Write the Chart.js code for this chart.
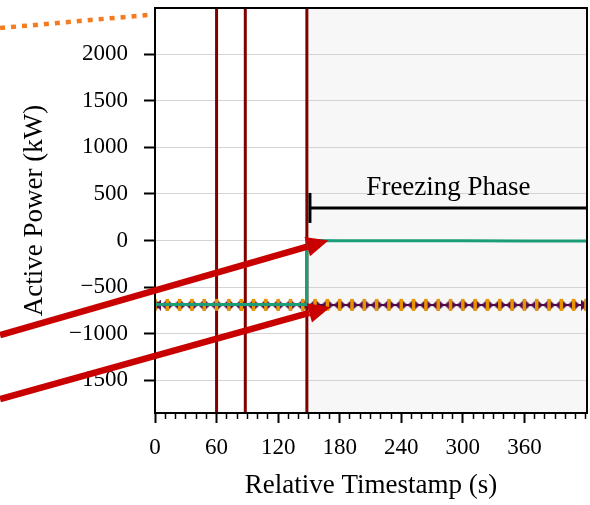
<!DOCTYPE html>
<html>
<head>
<meta charset="utf-8">
<script src="https://cdn.jsdelivr.net/npm/chart.js@4.4.0/dist/chart.umd.min.js"></script>
<style>
  html, body { margin: 0; padding: 0; background: #fff; }
  canvas { display: block; }
</style>
</head>
<body>
<canvas id="chart" width="590" height="505"></canvas>
<script>
// sample times (s) and values (kW)
const setpointTimes = [0, 12, 24, 36, 48, 60, 72, 84, 96, 108, 120, 132, 144, 156, 168, 180, 192, 204,
  216, 228, 240, 252, 264, 276, 288, 300, 312, 324, 336, 348, 360, 372, 384, 396, 408, 420];
const setpointValues = [-690, -690, -690, -690, -690, -690, -690, -690, -690, -690, -690, -690,
  -690, -690, -690, -690, -690, -690, -690, -690, -690, -690, -690, -690, -690, -690, -690, -690,
  -690, -690, -690, -690, -690, -690, -690, -690];
const measuredTimes = [0, 6, 18, 30, 42, 54, 66, 78, 90, 102, 114, 126, 138, 150, 162, 174, 186, 198,
  210, 222, 234, 246, 258, 270, 282, 294, 306, 318, 330, 342, 354, 366, 378, 390, 402, 414, 421];
const measuredValues = [-692, -692, -692, -692, -692, -692, -692, -692, -692, -692, -692, -692,
  -692, -692, -692, -692, -692, -692, -692, -692, -692, -692, -692, -692, -692, -692, -692, -692,
  -692, -692, -692, -692, -692, -692, -692, -692, -692];
const controlTimes = [0, 148, 148, 180, 240, 300, 360, 421];
const controlValues = [-685, -685, 0, -1, -2, -3, -4, -5];
const eventTimes = [60, 88, 148];
const freezeStart = 148;
const xLabels = [0, 60, 120, 180, 240, 300, 360];
const xMinorStep = 10;
const yLabels = [-1500, -1000, -500, 0, 500, 1000, 1500, 2000];

// annotations, in data units
const bracket = { start: 151, level: 350, text: 'Freezing Phase', textLevel: 490 };
const arrows = [
  { from: [-151, -1015], to: [169, 0] },
  { from: [-151, -1700], to: [171, -713] }
];
const dotted = { from: [-151, 2280], to: [-2, 2425] };

const serif = '"Liberation Serif", "Times New Roman", serif';

function bowtie(color) {
  const c = document.createElement('canvas');
  c.width = 12; c.height = 11;
  const g = c.getContext('2d');
  g.fillStyle = color;
  g.beginPath(); g.moveTo(0, 0); g.lineTo(6, 5.5); g.lineTo(0, 11); g.closePath(); g.fill();
  g.beginPath(); g.moveTo(12, 0); g.lineTo(6, 5.5); g.lineTo(12, 11); g.closePath(); g.fill();
  return c;
}

const toPts = (xs, ys) => xs.map((x, i) => ({ x: x, y: ys[i] }));

const decor = {
  id: 'decor',
  beforeDraw(chart) {
    const { ctx, chartArea: a, scales: { x } } = chart;
    ctx.save();
    ctx.fillStyle = '#f7f7f7';
    const x0 = x.getPixelForValue(freezeStart);
    ctx.fillRect(x0, a.top, a.right - x0, a.bottom - a.top);
    ctx.restore();
  },
  beforeDatasetsDraw(chart) {
    const { ctx, chartArea: a, scales: { x } } = chart;
    ctx.save();
    ctx.strokeStyle = '#800000';
    ctx.lineWidth = 3;
    eventTimes.forEach(t => {
      const px = x.getPixelForValue(t);
      ctx.beginPath(); ctx.moveTo(px, a.top); ctx.lineTo(px, a.bottom); ctx.stroke();
    });
    ctx.restore();
  },
  afterDatasetsDraw(chart) {
    const { ctx, chartArea: a, scales: { x, y } } = chart;
    ctx.save();
    // frame
    ctx.strokeStyle = '#000';
    ctx.lineWidth = 2;
    ctx.strokeRect(a.left, a.top, a.right - a.left, a.bottom - a.top);
    // bracket
    const bx = x.getPixelForValue(bracket.start);
    const by = y.getPixelForValue(bracket.level);
    ctx.lineWidth = 3;
    ctx.beginPath(); ctx.moveTo(bx, by); ctx.lineTo(a.right, by); ctx.stroke();
    ctx.beginPath(); ctx.moveTo(bx, by - 15); ctx.lineTo(bx, by + 15); ctx.stroke();
    ctx.fillStyle = '#000';
    ctx.font = '27px ' + serif;
    ctx.textAlign = 'center';
    ctx.textBaseline = 'alphabetic';
    ctx.fillText(bracket.text, (bx + a.right) / 2, y.getPixelForValue(bracket.textLevel));
    ctx.restore();
  },
  afterDraw(chart) {
    const { ctx, scales: { x, y } } = chart;
    const px = p => [x.getPixelForValue(p[0]), y.getPixelForValue(p[1])];
    ctx.save();
    // orange dotted line
    const d0 = px(dotted.from), d1 = px(dotted.to);
    ctx.strokeStyle = '#f47c20';
    ctx.lineWidth = 4.5;
    ctx.setLineDash([5, 6]);
    ctx.beginPath(); ctx.moveTo(d0[0], d0[1]); ctx.lineTo(d1[0], d1[1]); ctx.stroke();
    ctx.setLineDash([]);
    // red arrows
    ctx.strokeStyle = '#c80000';
    ctx.fillStyle = '#c80000';
    ctx.lineWidth = 6.5;
    arrows.forEach(ar => {
      const [x0, y0] = px(ar.from), [x1, y1] = px(ar.to);
      const ang = Math.atan2(y1 - y0, x1 - x0);
      const hl = 22, hw = 10;
      const bxp = x1 - hl * Math.cos(ang), byp = y1 - hl * Math.sin(ang);
      ctx.beginPath(); ctx.moveTo(x0, y0); ctx.lineTo(bxp, byp); ctx.stroke();
      ctx.beginPath();
      ctx.moveTo(x1, y1);
      ctx.lineTo(bxp + hw * Math.sin(ang), byp - hw * Math.cos(ang));
      ctx.lineTo(bxp - hw * Math.sin(ang), byp + hw * Math.cos(ang));
      ctx.closePath();
      ctx.fill();
    });
    ctx.restore();
  }
};

new Chart(document.getElementById('chart'), {
  type: 'line',
  data: {
    datasets: [
      {
        data: toPts(controlTimes, controlValues),
        borderColor: '#1b9e77',
        borderWidth: 3,
        pointRadius: 0,
        order: 0
      },
      {
        data: toPts(setpointTimes, setpointValues),
        showLine: false,
        pointStyle: 'line',
        pointRotation: 90,
        pointRadius: 6,
        pointBorderWidth: 3.5,
        pointBorderColor: '#e69500',
        order: 1
      },
      {
        data: toPts(measuredTimes, measuredValues),
        borderColor: '#520a48',
        borderWidth: 2,
        pointStyle: bowtie('#520a48'),
        pointRadius: 6,
        order: 2
      }
    ]
  },
  options: {
    responsive: false,
    animation: false,
    layout: { autoPadding: false, padding: { top: 8, right: 3, left: 0, bottom: 0 } },
    plugins: { legend: { display: false }, tooltip: { enabled: false } },
    scales: {
      x: {
        type: 'linear',
        min: 0,
        max: 421,
        afterBuildTicks: s => {
          const t = [];
          for (let v = 0; v <= s.max; v += xMinorStep) t.push({ value: v });
          s.ticks = t;
        },
        afterFit: s => { s.height = 92; s.paddingLeft = 0; s.paddingRight = 0; },
        border: { color: '#000', width: 2 },
        grid: {
          drawOnChartArea: false,
          tickColor: '#000',
          tickLength: 10,
          tickWidth: c => (c.tick && xLabels.includes(c.tick.value)) ? 2 : 1.5,
          tickBorderDash: c => (c.tick && xLabels.includes(c.tick.value)) ? [] : [5, 100]
        },
        ticks: {
          autoSkip: false,
          maxRotation: 0,
          padding: 11,
          color: '#000',
          font: { family: serif, size: 23 },
          callback: v => xLabels.includes(v) ? String(v) : ''
        },
        title: {
          display: true,
          text: 'Relative Timestamp (s)',
          color: '#000',
          font: { family: serif, size: 27 },
          padding: { top: 0, bottom: 3 }
        }
      },
      y: {
        min: -1850,
        max: 2495,
        afterBuildTicks: s => { s.ticks = yLabels.map(v => ({ value: v })); },
        afterFit: s => { s.width = 155; s.paddingTop = 0; s.paddingBottom = 0; },
        border: { color: '#000', width: 2 },
        grid: {
          color: '#d4d4d4',
          lineWidth: 1,
          tickColor: '#000',
          tickWidth: 2,
          tickLength: 11
        },
        ticks: {
          autoSkip: false,
          padding: 16,
          color: '#000',
          font: { family: serif, size: 23 },
          callback: v => v < 0 ? '\u2212' + Math.abs(v) : String(v)
        },
        title: {
          display: true,
          text: 'Active Power (kW)',
          color: '#000',
          font: { family: serif, size: 27 },
          padding: { top: 19, bottom: 0 }
        }
      }
    }
  },
  plugins: [decor]
});
</script>
</body>
</html>
